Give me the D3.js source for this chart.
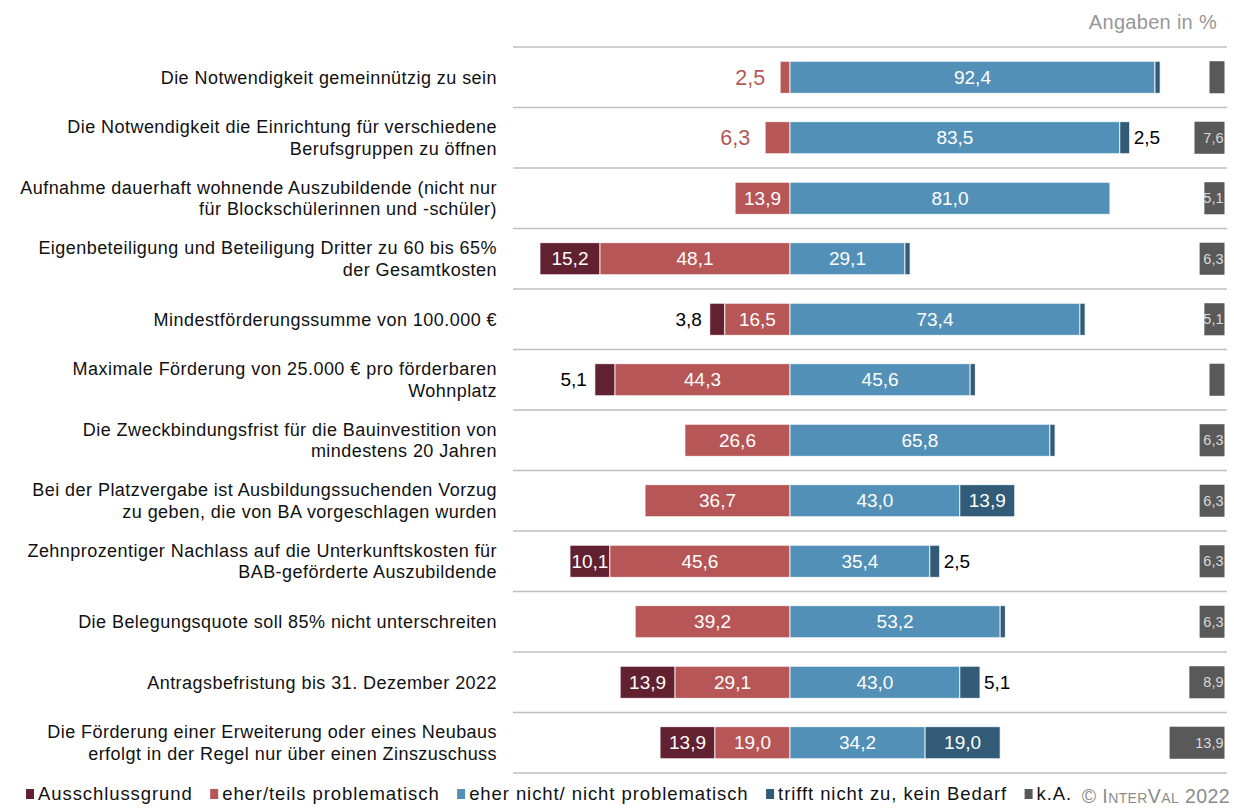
<!DOCTYPE html>
<html><head><meta charset="utf-8">
<script src="https://cdn.jsdelivr.net/npm/d3@7"></script>
<style>
html,body{margin:0;padding:0;background:#fff;}
svg{display:block;font-family:"Liberation Sans",Arial,sans-serif;}
</style></head>
<body><svg id="chart" width="1234" height="808"></svg>
<script>
const categories = [
  ["Die Notwendigkeit gemeinnützig zu sein"],
  ["Die Notwendigkeit die Einrichtung für verschiedene","Berufsgruppen zu öffnen"],
  ["Aufnahme dauerhaft wohnende Auszubildende (nicht nur","für Blockschülerinnen und -schüler)"],
  ["Eigenbeteiligung und Beteiligung Dritter zu 60 bis 65%","der Gesamtkosten"],
  ["Mindestförderungssumme von 100.000 €"],
  ["Maximale Förderung von 25.000 € pro förderbaren","Wohnplatz"],
  ["Die Zweckbindungsfrist für die Bauinvestition von","mindestens 20 Jahren"],
  ["Bei der Platzvergabe ist Ausbildungssuchenden Vorzug","zu geben, die von BA vorgeschlagen wurden"],
  ["Zehnprozentiger Nachlass auf die Unterkunftskosten für","BAB-geförderte Auszubildende"],
  ["Die Belegungsquote soll 85% nicht unterschreiten"],
  ["Antragsbefristung bis 31. Dezember 2022"],
  ["Die Förderung einer Erweiterung oder eines Neubaus","erfolgt in der Regel nur über einen Zinszuschuss"]
];
const seriesNames = ["Ausschlussgrund","eher/teils problematisch","eher nicht/ nicht problematisch","trifft nicht zu, kein Bedarf","k.A."];
const ausschluss   = [0, 0, 0, 15.2, 3.8, 5.1, 0, 0, 10.1, 0, 13.9, 13.9];
const eherTeils    = [2.5, 6.3, 13.9, 48.1, 16.5, 44.3, 26.6, 36.7, 45.6, 39.2, 29.1, 19.0];
const eherNicht    = [92.4, 83.5, 81.0, 29.1, 73.4, 45.6, 65.8, 43.0, 35.4, 53.2, 43.0, 34.2];
const trifftNicht  = [1.3, 2.5, 0, 1.3, 1.3, 1.3, 1.3, 13.9, 2.5, 1.3, 5.1, 19.0];
const keineAngabe  = [3.8, 7.6, 5.1, 6.3, 5.1, 3.8, 6.3, 6.3, 6.3, 6.3, 8.9, 13.9];
const headerText = "Angaben in %";
const copyrightText = "© InterVal 2022";

const colors = ["#622130","#B75656","#5390B7","#325B78","#595959"];

const svg = d3.select("#chart");
const fmt = v => d3.format(".1f")(v).replace(".", ",");

const x = d3.scaleLinear().domain([-70, 110]).range([513.5, 1224.5]);
const y = d3.scaleBand().domain(d3.range(categories.length)).range([47, 773]).paddingInner(0.47).paddingOuter(0.235);
const rowStep = y.step();

// separator lines
svg.append("g").selectAll("line").data(d3.range(categories.length+1)).join("line")
  .attr("x1", 513).attr("x2", 1227)
  .attr("y1", i => 47 + i*rowStep).attr("y2", i => 47 + i*rowStep)
  .attr("stroke", "#BFBFBF").attr("stroke-width", 1.6);

// header
svg.append("text").attr("x", 1217).attr("y", 29).attr("text-anchor","end")
  .attr("fill","#979797").attr("font-size", 20).attr("letter-spacing", 0.3).text(headerText);

// category labels
const catG = svg.append("g");
categories.forEach((lines, i) => {
  const cy = y(i) + y.bandwidth()/2;
  const lh = 21.7;
  const t = catG.append("text").attr("text-anchor","end").attr("font-size", 18)
    .attr("fill","#111").attr("letter-spacing", 0.45);
  lines.forEach((ln, k) => {
    t.append("tspan").attr("x", 497)
      .attr("y", cy + (k - (lines.length-1)/2)*lh)
      .attr("dy", "0.35em").text(ln);
  });
});

// segments
const rows = categories.map((c, i) => ({
  i, a: ausschluss[i], r: eherTeils[i], b: eherNicht[i], d: trifftNicht[i], k: keineAngabe[i]
}));
const segs = [];
rows.forEach(r => {
  segs.push({i:r.i, s:0, v:r.a, x0:-(r.a+r.r), x1:-r.r});
  segs.push({i:r.i, s:1, v:r.r, x0:-r.r, x1:0});
  segs.push({i:r.i, s:2, v:r.b, x0:0, x1:r.b});
  segs.push({i:r.i, s:3, v:r.d, x0:r.b, x1:r.b+r.d});
  segs.push({i:r.i, s:4, v:r.k, x0:110-r.k, x1:110});
});
const segData = segs.filter(d => d.v > 0);

svg.append("g").selectAll("rect").data(segData).join("rect")
  .attr("x", d => x(d.x0)).attr("width", d => x(d.x1)-x(d.x0))
  .attr("y", d => y(d.i)).attr("height", y.bandwidth())
  .attr("fill", d => colors[d.s])
  .attr("stroke", d => d.s===4 ? "none" : "#fff").attr("stroke-width", d => d.s===4 ? 0 : 0.8);

// labels
const lab = svg.append("g");
segData.forEach(d => {
  const cy = y(d.i) + y.bandwidth()/2;
  const w = x(d.x1) - x(d.x0);
  if (d.s === 4) {
    if (d.v < 5) return;
    lab.append("text").attr("x", x(d.x1)-1).attr("y", cy).attr("dy","0.35em")
      .attr("text-anchor","end").attr("font-size", 14.5).attr("fill","#DADADA").text(fmt(d.v));
    return;
  }
  if (d.v < 2) return;
  if (w > 38) {
    lab.append("text").attr("x", (x(d.x0)+x(d.x1))/2).attr("y", cy).attr("dy","0.35em")
      .attr("text-anchor","middle").attr("font-size", 19).attr("fill","#fff").text(fmt(d.v));
  } else if (d.s === 1) {
    lab.append("text").attr("x", x(d.x0)-15).attr("y", cy).attr("dy","0.35em")
      .attr("text-anchor","end").attr("font-size", 21.5).attr("fill","#B75656").text(fmt(d.v));
  } else if (d.s === 0) {
    lab.append("text").attr("x", x(d.x0)-8).attr("y", cy).attr("dy","0.35em")
      .attr("text-anchor","end").attr("font-size", 19).attr("fill","#000").text(fmt(d.v));
  } else {
    lab.append("text").attr("x", x(d.x1)+4).attr("y", cy).attr("dy","0.35em")
      .attr("text-anchor","start").attr("font-size", 19).attr("fill","#000").text(fmt(d.v));
  }
});

// legend
const leg = svg.append("g");
let lx = 26;
const ly = 794;
seriesNames.forEach((name, s) => {
  leg.append("rect").attr("x", lx).attr("y", ly-5).attr("width", 8).attr("height", 10).attr("fill", colors[s]);
  const t = leg.append("text").attr("x", lx+12).attr("y", ly).attr("dy","0.35em")
    .attr("font-size", 18.5).attr("letter-spacing", 0.92).attr("fill","#111").text(name);
  lx += 12 + t.node().getComputedTextLength() + 17.5;
});
svg.append("text").attr("x", 1230).attr("y", 796).attr("dy","0.35em").attr("text-anchor","end")
  .attr("font-size", 19.5).attr("letter-spacing", 0.4).attr("fill","#8C8C8C").attr("font-variant","small-caps").text(copyrightText);
</script>
</body></html>
